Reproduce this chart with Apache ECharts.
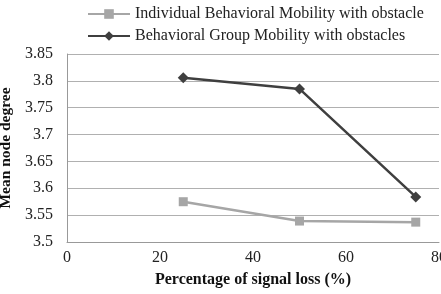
<!DOCTYPE html>
<html>
<head>
<meta charset="utf-8">
<script src="https://cdn.jsdelivr.net/npm/echarts@6/dist/echarts.min.js"></script>
<style>
	html, body { margin: 0; padding: 0; background: #fff; }
	#chart { width: 441px; height: 294px; }
</style>
</head>
<body>
<div id="chart"></div>
<script type="text/javascript">
    // 信号丢失百分比
    var signalLoss = [25, 50, 75];
    var individualMobility = [3.575, 3.539, 3.537];
    var groupMobility = [3.806, 3.785, 3.584];
    var seriesNames = ['Individual Behavioral Mobility with obstacle', 'Behavioral Group Mobility with obstacles'];

    var font = '"Liberation Serif", "Times New Roman", serif';
    var myChart = echarts.init(document.getElementById('chart'));
    var option = {
        animation: false,
        textStyle: { fontFamily: font },
        legend: {
            orient: 'vertical',
            left: 82,
            top: 1,
            itemWidth: 42,
            itemHeight: 12,
            itemGap: 6,
            textStyle: { fontFamily: font, fontSize: 16, color: '#222' },
            data: seriesNames
        },
        grid: { left: 67, right: 2, top: 54, bottom: 52, outerBoundsMode: 'none', containLabel: false },
        xAxis: {
            type: 'value',
            min: 0, max: 80, interval: 20,
            name: 'Percentage of signal loss (%)',
            nameLocation: 'middle',
            nameGap: 30,
            nameTextStyle: { fontFamily: font, fontSize: 16, fontWeight: 'bold', color: '#111' },
            axisLine: { lineStyle: { color: '#999' } },
            axisTick: { show: false },
            axisLabel: { fontFamily: font, fontSize: 16, color: '#222', margin: 8 },
            splitLine: { show: false }
        },
        yAxis: {
            type: 'value',
            min: 3.5, max: 3.85, interval: 0.05,
            name: 'Mean node degree',
            nameLocation: 'middle',
            nameGap: 51,
            nameTextStyle: { fontFamily: font, fontSize: 15.5, fontWeight: 'bold', color: '#111' },
            axisLine: { show: true, lineStyle: { color: '#999' } },
            axisTick: { show: false },
            axisLabel: { fontFamily: font, fontSize: 16, color: '#222', margin: 14 },
            splitLine: { lineStyle: { color: '#b0b0b0' } }
        },
        series: [
            {
                name: seriesNames[0],
                type: 'line',
                data: signalLoss.map(function (x, i) { return [x, individualMobility[i]]; }),
                symbol: 'rect',
                symbolSize: 9,
                itemStyle: { color: '#a6a6a6' },
                lineStyle: { color: '#a6a6a6', width: 2.5 }
            },
            {
                name: seriesNames[1],
                type: 'line',
                data: signalLoss.map(function (x, i) { return [x, groupMobility[i]]; }),
                symbol: 'diamond',
                symbolSize: 11,
                itemStyle: { color: '#3f3f3f' },
                lineStyle: { color: '#3f3f3f', width: 2.5 }
            }
        ]
    };
    myChart.setOption(option);
</script>
</body>
</html>
